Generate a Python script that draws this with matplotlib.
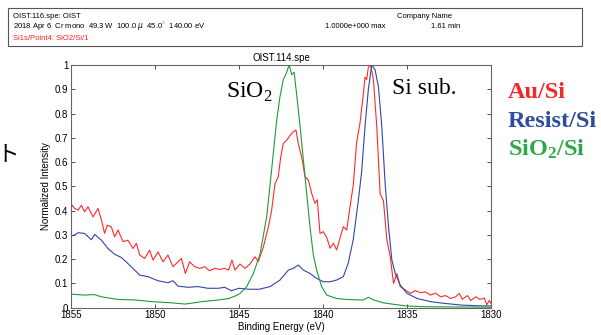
import matplotlib
matplotlib.use("Agg")
import matplotlib.pyplot as plt
from matplotlib.patches import Rectangle

plt.rcParams['font.family'] = ['Liberation Sans', 'DejaVu Sans']
plt.rcParams['mathtext.fontset'] = 'custom'
plt.rcParams['mathtext.rm'] = 'Liberation Serif'
plt.rcParams['mathtext.bf'] = 'Liberation Serif:bold'

# Si 1s spectra, normalized
au_E = [1855.0, 1854.78, 1854.58, 1854.38, 1854.19, 1853.99, 1853.69, 1853.39, 1853.19, 1853.0,
        1852.84, 1852.6, 1852.4, 1852.2, 1851.9, 1851.61, 1851.31, 1851.11, 1850.91, 1850.62,
        1850.32, 1850.12, 1849.82, 1849.52, 1849.23, 1848.93, 1848.63, 1848.43, 1848.19, 1847.94,
        1847.64, 1847.34, 1847.04, 1846.75, 1846.45, 1846.15, 1845.85, 1845.62, 1845.42, 1845.24,
        1844.94, 1844.64, 1844.35, 1844.05, 1843.85, 1843.55, 1843.25, 1843.06, 1842.86, 1842.66,
        1842.52, 1842.36, 1842.16, 1841.96, 1841.77, 1841.61, 1841.47, 1841.27, 1841.07, 1840.87,
        1840.67, 1840.48, 1840.34, 1840.18, 1839.98, 1839.78, 1839.58, 1839.38, 1839.19, 1838.99,
        1838.79, 1838.59, 1838.39, 1838.19, 1838.0, 1837.8, 1837.6, 1837.5, 1837.4, 1837.3,
        1837.16, 1837.0, 1836.8, 1836.6, 1836.4, 1836.2, 1836.0, 1835.8, 1835.6, 1835.4,
        1835.1, 1834.8, 1834.5, 1834.2, 1833.9, 1833.6, 1833.3, 1833.0, 1832.7, 1832.4,
        1832.1, 1831.9, 1831.7, 1831.4, 1831.2, 1830.9, 1830.65, 1830.4, 1830.25, 1830.1, 1830.0]
au_I = [0.427, 0.409, 0.402, 0.422, 0.395, 0.416, 0.374, 0.409, 0.361, 0.306,
        0.34, 0.333, 0.292, 0.32, 0.272, 0.278, 0.244, 0.265, 0.217, 0.203,
        0.237, 0.196, 0.23, 0.189, 0.217, 0.169, 0.189, 0.203, 0.141, 0.189,
        0.169, 0.162, 0.169, 0.152, 0.162, 0.158, 0.162, 0.155, 0.196, 0.155,
        0.18, 0.162, 0.18, 0.21, 0.19, 0.25, 0.334, 0.40, 0.51, 0.54,
        0.62, 0.677, 0.69, 0.71, 0.725, 0.732, 0.677, 0.62, 0.54, 0.526,
        0.47, 0.43, 0.445, 0.306, 0.313, 0.29, 0.245, 0.266, 0.238, 0.286,
        0.334, 0.32, 0.416, 0.51, 0.68, 0.76, 0.88, 0.95, 0.94, 0.99,
        1.0, 0.94, 0.746, 0.47, 0.44, 0.28, 0.21, 0.10, 0.14, 0.087,
        0.073, 0.059, 0.07, 0.062, 0.065, 0.052, 0.06, 0.045, 0.05, 0.038,
        0.045, 0.059, 0.035, 0.05, 0.03, 0.045, 0.034, 0.04, 0.012, 0.03, 0.018]

resist_E = [1855.0, 1854.78, 1854.58, 1854.19, 1853.79, 1853.59, 1853.19, 1852.8, 1852.4, 1852.0,
            1851.61, 1851.21, 1850.91, 1850.42, 1849.82, 1849.23, 1848.93, 1848.63, 1848.04, 1847.44,
            1846.85, 1846.25, 1845.85, 1845.46, 1845.0, 1844.4, 1843.8, 1843.15, 1842.56, 1842.06,
            1841.77, 1841.47, 1841.17, 1840.77, 1840.38, 1839.98, 1839.58, 1839.19, 1838.79, 1838.5,
            1838.2, 1837.9, 1837.7, 1837.5, 1837.3, 1837.1, 1836.9, 1836.7, 1836.5, 1836.3,
            1836.1, 1835.9, 1835.7, 1835.4, 1835.0, 1834.4, 1833.6, 1832.8, 1831.8, 1830.8, 1830.0]
resist_I = [0.295, 0.3, 0.309, 0.306, 0.28, 0.302, 0.278, 0.244, 0.22, 0.207,
            0.182, 0.155, 0.134, 0.128, 0.111, 0.103, 0.111, 0.089, 0.084, 0.087,
            0.08, 0.08, 0.084, 0.07, 0.08, 0.076, 0.076, 0.087, 0.114, 0.155,
            0.162, 0.176, 0.155, 0.141, 0.121, 0.107, 0.107, 0.114, 0.128, 0.183,
            0.28, 0.44, 0.56, 0.746, 0.90, 1.0, 0.98, 0.91, 0.746, 0.51,
            0.334, 0.196, 0.141, 0.093, 0.059, 0.038, 0.025, 0.018, 0.011, 0.008, 0.007]

sio2_E = [1855.0, 1854.2, 1853.6, 1853.2, 1852.2, 1851.2, 1850.2, 1849.2, 1848.2, 1847.2,
          1846.2, 1845.6, 1845.16, 1844.94, 1844.54, 1844.15, 1843.75, 1843.35, 1843.06, 1842.76,
          1842.56, 1842.36, 1842.16, 1842.02, 1841.86, 1841.72, 1841.57, 1841.37, 1841.17, 1840.97,
          1840.77, 1840.58, 1840.38, 1840.08, 1839.78, 1839.19, 1838.6, 1837.9, 1837.6, 1837.3,
          1837.0, 1836.4, 1835.8, 1835.0, 1834.0, 1832.0, 1830.0]
sio2_I = [0.056, 0.052, 0.054, 0.045, 0.034, 0.032, 0.025, 0.021, 0.015, 0.025,
          0.032, 0.038, 0.05, 0.059, 0.087, 0.14, 0.22, 0.375, 0.567, 0.77,
          0.87, 0.94, 0.97, 1.0, 0.96, 0.97, 0.88, 0.75, 0.61, 0.47,
          0.33, 0.22, 0.155, 0.087, 0.052, 0.038, 0.034, 0.032, 0.032, 0.043,
          0.032, 0.02, 0.014, 0.007, 0.004, 0.003, 0.002]

W, H = 601, 335
fig = plt.figure(figsize=(W / 100, H / 100), dpi=100)

def fx(x):
    return x / W

def fy(y):
    return 1 - y / H

# header box
fig.patches.append(Rectangle((fx(8), fy(46)), fx(574), 38 / H, transform=fig.transFigure,
                             fill=False, edgecolor='#555555', linewidth=0.8))
fig.text(fx(13), fy(16), 'OIST.116.spe: OIST', fontsize=5.5, va='center')
fig.text(fx(13), fy(27), '2018 Apr 6  Cr mono  49.3 W  100.0 $\\mu$  45.0$^{\\circ}$  140.00 eV',
         fontsize=5.5, va='center')
fig.text(fx(13), fy(38), 'Si1s/Point4: SiO2/Si/1', fontsize=5.5, va='center', color='#ff2020')
fig.text(fx(397), fy(16), 'Company Name', fontsize=5.5, va='center')
fig.text(fx(325), fy(27), '1.0000e+000 max', fontsize=5.5, va='center')
fig.text(fx(431), fy(27), '1.61 min', fontsize=5.5, va='center')

# clipped Japanese text at left edge
fig.text(fx(20), fy(154), 'ット', fontsize=16, ha='right', va='center',
         family=['Noto Sans CJK JP', 'DejaVu Sans'])

ax = fig.add_axes([fx(71), fy(307.7), fx(420), 242.7 / H])
ax.plot(au_E, au_I, color='#ff2a2a', lw=0.8)
ax.plot(resist_E, resist_I, color='#3344a8', lw=0.8)
ax.plot(sio2_E, sio2_I, color='#1f9a3a', lw=0.8)

ax.set_xlim(1855, 1830)
ax.set_ylim(0, 1)
ax.set_xticks([1855, 1850, 1845, 1840, 1835, 1830])
ax.set_yticks([0, 0.1, 0.2, 0.3, 0.4, 0.5, 0.6, 0.7, 0.8, 0.9, 1])
ax.set_yticklabels(['0', '0.1', '0.2', '0.3', '0.4', '0.5', '0.6', '0.7', '0.8', '0.9', '1'])
ax.tick_params(direction='in', length=3, width=0.6, labelsize=7, pad=2,
               top=True, right=True, colors='#333333', labelcolor='black')
for s in ax.spines.values():
    s.set_color('#666666')
    s.set_linewidth(0.8)
ax.set_xlabel('Binding Energy (eV)', fontsize=7, labelpad=1)
ax.set_ylabel('Normalized Intensity', fontsize=7, labelpad=3)
ax.set_title('OIST.114.spe', fontsize=7, pad=3)

serif = ['Liberation Serif', 'DejaVu Serif']
ax.text(1845.77, 0.864, 'SiO$_2$', fontsize=17, family=serif, va='baseline')
ax.text(1835.89, 0.88, 'Si sub.', fontsize=17, family=serif, va='baseline')

fig.text(fx(508), fy(98), 'Au/Si', fontsize=17.5, family=serif, weight='bold',
         color='#ee2a2a', va='baseline')
fig.text(fx(508), fy(127), 'Resist/Si', fontsize=17.5, family=serif, weight='bold',
         color='#2f4c9c', va='baseline')
fig.text(fx(508), fy(156), r'$\mathbf{SiO_2/Si}$', fontsize=17.5, family=serif,
         color='#2ea84a', va='baseline')

fig.savefig('out.png', dpi=100)
